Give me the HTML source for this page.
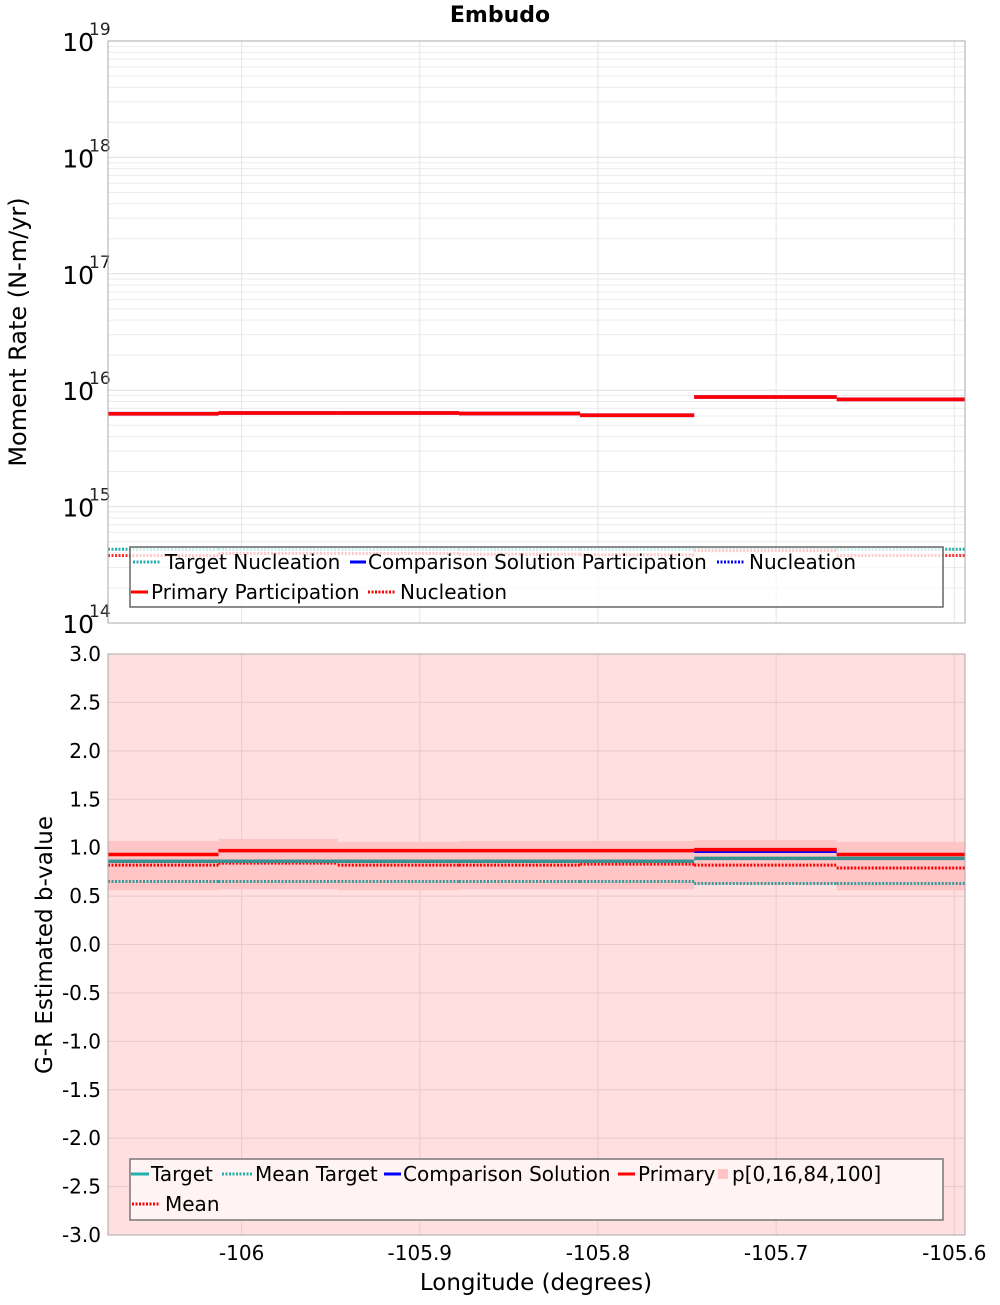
<!DOCTYPE html>
<html><head><meta charset="utf-8"><style>
body{margin:0;background:#fff;width:1000px;height:1300px;overflow:hidden}
svg{font-family:"DejaVu Sans","Liberation Sans",sans-serif}
</style></head><body>
<svg id="c" width="1000" height="1300" xmlns="http://www.w3.org/2000/svg"></svg>
<script>
const binEdges=[-106.075,-106.013,-105.946,-105.878,-105.81,-105.746,-105.666,-105.594];
const xTicks=[-106,-105.9,-105.8,-105.7,-105.6];
const xTickLabels=["-106","-105.9","-105.8","-105.7","-105.6"];
const primaryPart=[6.28e15,6.37e15,6.37e15,6.3e15,6.1e15,8.74e15,8.34e15];
const primaryNuc=[3.8e14,3.95e14,3.95e14,3.9e14,3.85e14,4.2e14,3.8e14];
const targetNuc=[4.3e14,4.3e14,4.3e14,4.3e14,4.3e14,4.3e14,4.3e14];
const bPrimary=[0.93,0.97,0.97,0.97,0.97,0.98,0.93];
const bComparison=[0.93,0.97,0.97,0.97,0.97,0.96,0.93];
const bTarget=[0.86,0.86,0.86,0.86,0.86,0.89,0.89];
const bMean=[0.82,0.84,0.82,0.82,0.83,0.82,0.79];
const bMeanTarget=[0.65,0.65,0.65,0.65,0.65,0.63,0.63];
const bP16=[0.56,0.57,0.56,0.57,0.57,0.62,0.56];
const bP84=[1.07,1.09,1.06,1.07,1.07,1.08,1.06];
const bTicks=[-3,-2.5,-2,-1.5,-1,-0.5,0,0.5,1,1.5,2,2.5,3];

const S=document.getElementById('c'),NS='http://www.w3.org/2000/svg';
function el(t,a,p){const e=document.createElementNS(NS,t);for(const k in a)e.setAttribute(k,a[k]);(p||S).appendChild(e);return e;}
const L=108,R=965,T1=41,B1=623,T2=654,B2=1235;
const X=v=>L+(v-binEdges[0])/(binEdges[7]-binEdges[0])*(R-L);
const Y1=v=>T1+(19-Math.log10(v))*(B1-T1)/5;
const Y2=v=>T2+(3-v)*(B2-T2)/6;

let t=el('text',{x:500,y:22,'text-anchor':'middle','font-size':22,'font-weight':'bold'});t.textContent='Embudo';


// ---- top panel
let g=el('g',{});
for(let d=14;d<19;d++)for(let m=1;m<10;m++){const y=Y1(m*Math.pow(10,d));el('line',{x1:L,x2:R,y1:y,y2:y,stroke:m==1?'#e0e0e0':'#ececec','stroke-width':1},g);}
xTicks.forEach(v=>el('line',{x1:X(v),x2:X(v),y1:T1,y2:B1,stroke:'#e4e4e4'},g));
for(let d=14;d<=19;d++){const y=Y1(Math.pow(10,d));
 let a=el('text',{x:94,y:y+10,'text-anchor':'end','font-size':25});a.textContent='10';
 
 let b=el('text',{x:89,y:y-6,'font-size':17,fill:'#222'});b.textContent=String(d);
 }
let yt=el('text',{transform:'translate(26,332) rotate(-90)','text-anchor':'middle','font-size':24});yt.textContent='Moment Rate (N-m/yr)';

function steps(arr,Y,attrs,name){for(let i=0;i<arr.length;i++){const l=el('line',Object.assign({x1:X(binEdges[i]),x2:X(binEdges[i+1]),y1:Y(arr[i]),y2:Y(arr[i])},attrs));
 }}
steps(targetNuc,Y1,{stroke:'#20b2aa','stroke-width':3,'stroke-dasharray':'2,1.5'},'target-nucleation');
steps(primaryNuc,Y1,{stroke:'#ff3030','stroke-width':3,'stroke-dasharray':'2,1.5'},'primary-nucleation');
steps(primaryPart,Y1,{stroke:'#b060c0','stroke-width':4},'comparison-participation');
steps(primaryPart,Y1,{stroke:'#ff0000','stroke-width':3.5},'primary-participation');
let fr=el('rect',{x:L,y:T1,width:R-L,height:B1-T1,fill:'none',stroke:'#aaa'});
let lg=el('g',{});
el('rect',{x:130,y:547,width:813,height:60,fill:'rgba(255,255,255,0.75)',stroke:'#666','stroke-width':1.5},lg);
function entry(par,x1,x2,tx0,y,col,dash,label){const l=el('line',{x1:x1,x2:x2,y1:y,y2:y,stroke:col,'stroke-width':3},par);if(dash)l.setAttribute('stroke-dasharray','2,1.5');
 const tx=el('text',{x:tx0,y:y+7,'font-size':20},par);tx.textContent=label;}
entry(lg,133,161,165,562,'#20b2aa',1,'Target Nucleation');
entry(lg,350,366,368,562,'#0000ff',0,'Comparison Solution Participation');
entry(lg,717,745,749,562,'#0000ff',1,'Nucleation');
entry(lg,131,148,151,592,'#ff0000',0,'Primary Participation');
entry(lg,368,396,400,592,'#ff0000',1,'Nucleation');

// ---- bottom panel
let bg=el('rect',{x:L,y:T2,width:R-L,height:B2-T2,fill:'#ffdfe0'});
let g2=el('g',{});
bTicks.forEach(v=>{el('line',{x1:L,x2:R,y1:Y2(v),y2:Y2(v),stroke:'#ecc8ca'},g2);
 const tx=el('text',{x:101,y:Y2(v)+7,'text-anchor':'end','font-size':20});tx.textContent=v.toFixed(1);
 });
xTicks.forEach((v,i)=>{el('line',{x1:X(v),x2:X(v),y1:T2,y2:B2,stroke:'#ecc8ca'},g2);
 const tx=el('text',{x:Math.min(X(v),955),y:1260,'text-anchor':'middle','font-size':20});tx.textContent=xTickLabels[i];
 });
for(let i=0;i<bP16.length;i++){const r=el('rect',{x:X(binEdges[i]),y:Y2(bP84[i]),width:X(binEdges[i+1])-X(binEdges[i]),height:Y2(bP16[i])-Y2(bP84[i]),fill:'#ffc4c6'});
 }
steps(bMeanTarget,Y2,{stroke:'#3a9a9a','stroke-width':3,'stroke-dasharray':'2,1.5'},'mean-target');
steps(bMean,Y2,{stroke:'#ff0000','stroke-width':3,'stroke-dasharray':'2,1.5'},'mean');
steps(bTarget,Y2,{stroke:'#3a9090','stroke-width':3.5},'target');
steps(bComparison,Y2,{stroke:'#0000ff','stroke-width':3},'comparison');
steps(bPrimary,Y2,{stroke:'#ff0000','stroke-width':3.5},'primary');
let fr2=el('rect',{x:L,y:T2,width:R-L,height:B2-T2,fill:'none',stroke:'#aaa'});
let yt2=el('text',{transform:'translate(52,945) rotate(-90)','text-anchor':'middle','font-size':23});yt2.textContent='G-R Estimated b-value';

let xt=el('text',{x:536,y:1290,'text-anchor':'middle','font-size':23});xt.textContent='Longitude (degrees)';

let lg2=el('g',{});
el('rect',{x:130,y:1159,width:813,height:61,fill:'#fff3f3',stroke:'#777','stroke-width':1.5},lg2);
entry(lg2,131,149,151,1174,'#20b2aa',0,'Target');
entry(lg2,222,252,255,1174,'#20b2aa',1,'Mean Target');
entry(lg2,384,401,403,1174,'#0000ff',0,'Comparison Solution');
entry(lg2,618,635,638,1174,'#ff0000',0,'Primary');
el('rect',{x:718,y:1169,width:10,height:10,fill:'#ffc4c6'},lg2);
let ptx=el('text',{x:732,y:1181,'font-size':20},lg2);ptx.textContent='p[0,16,84,100]';

entry(lg2,132,160,165,1204,'#ff0000',1,'Mean');
</script>
</body></html>
